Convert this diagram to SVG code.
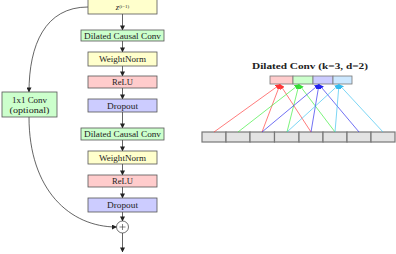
<svg xmlns="http://www.w3.org/2000/svg" width="396" height="254" viewBox="0 0 396 254">
<defs>
<style>
.box{stroke:#555;stroke-width:0.8}
.y{fill:#ffffcc}.g{fill:#ccffcc}.r{fill:#ffcccc}.b{fill:#ccccff}
.t{font-family:"Liberation Serif","DejaVu Serif",serif;font-size:8.5px;fill:#222;text-anchor:middle}
.ln{stroke:#222;stroke-width:0.7;fill:none}
.cell{fill:#e3e3e3;stroke:#777;stroke-width:1.2}
.k{stroke:#777;stroke-width:0.8}
</style>
<marker id="ah" viewBox="0 0 6 6" refX="5.5" refY="3" markerWidth="5" markerHeight="5" orient="auto" markerUnits="userSpaceOnUse"><path d="M0,0 L6,3 L0,6 z" fill="#222"/></marker>
<marker id="ar" viewBox="0 0 6 6" refX="5.5" refY="3" markerWidth="5" markerHeight="5" orient="auto" markerUnits="userSpaceOnUse"><path d="M0,0 L6,3 L0,6 z" fill="#ff3333"/></marker>
<marker id="ag" viewBox="0 0 6 6" refX="5.5" refY="3" markerWidth="5" markerHeight="5" orient="auto" markerUnits="userSpaceOnUse"><path d="M0,0 L6,3 L0,6 z" fill="#33dd33"/></marker>
<marker id="ab" viewBox="0 0 6 6" refX="5.5" refY="3" markerWidth="5" markerHeight="5" orient="auto" markerUnits="userSpaceOnUse"><path d="M0,0 L6,3 L0,6 z" fill="#2222ee"/></marker>
<marker id="ac" viewBox="0 0 6 6" refX="5.5" refY="3" markerWidth="5" markerHeight="5" orient="auto" markerUnits="userSpaceOnUse"><path d="M0,0 L6,3 L0,6 z" fill="#33bbee"/></marker>
</defs>
<rect width="396" height="254" fill="#fff"/>

<g id="connectors">
<line class="ln" x1="122.5" y1="14" x2="122.5" y2="30" marker-end="url(#ah)"/>
<line class="ln" x1="122.5" y1="41" x2="122.5" y2="52" marker-end="url(#ah)"/>
<line class="ln" x1="122.5" y1="66" x2="122.5" y2="76" marker-end="url(#ah)"/>
<line class="ln" x1="122.5" y1="88" x2="122.5" y2="99" marker-end="url(#ah)"/>
<line class="ln" x1="122.5" y1="112" x2="122.5" y2="128" marker-end="url(#ah)"/>
<line class="ln" x1="122.5" y1="140" x2="122.5" y2="151" marker-end="url(#ah)"/>
<line class="ln" x1="122.5" y1="164" x2="122.5" y2="175" marker-end="url(#ah)"/>
<line class="ln" x1="122.5" y1="187" x2="122.5" y2="198" marker-end="url(#ah)"/>
<line class="ln" x1="122.5" y1="212" x2="122.5" y2="221" marker-end="url(#ah)"/>
<line class="ln" x1="122.5" y1="233" x2="122.5" y2="252" marker-end="url(#ah)"/>
<path class="ln" d="M88,7 C45,7 29,45 29,92" marker-end="url(#ah)"/>
<path class="ln" d="M29,117 C29,190 70,227 116.5,227" marker-end="url(#ah)"/>
</g>

<g id="z"><rect class="box y" x="88" y="-1" width="69" height="15"/>
<text class="t" x="122.5" y="10" font-size="7"><tspan font-style="italic">z</tspan><tspan font-size="5" dy="-2.5">(i−1)</tspan></text></g>
<g id="dcc1"><rect class="box g" x="81" y="30" width="83" height="11"/><text class="t" x="122.5" y="38.5" textLength="77" lengthAdjust="spacingAndGlyphs">Dilated Causal Conv</text></g>
<g id="wn1"><rect class="box y" x="88" y="52" width="69" height="14"/><text class="t" x="122.5" y="62" textLength="47" lengthAdjust="spacingAndGlyphs">WeightNorm</text></g>
<g id="relu1"><rect class="box r" x="88" y="76" width="69" height="12"/><text class="t" x="122.5" y="85" textLength="21" lengthAdjust="spacingAndGlyphs">ReLU</text></g>
<g id="drop1"><rect class="box b" x="88" y="99" width="69" height="13"/><text class="t" x="122.5" y="108.5" textLength="31" lengthAdjust="spacingAndGlyphs">Dropout</text></g>
<g id="dcc2"><rect class="box g" x="81" y="128" width="83" height="12"/><text class="t" x="122.5" y="137" textLength="77" lengthAdjust="spacingAndGlyphs">Dilated Causal Conv</text></g>
<g id="wn2"><rect class="box y" x="88" y="151" width="69" height="13"/><text class="t" x="122.5" y="160.5" textLength="47" lengthAdjust="spacingAndGlyphs">WeightNorm</text></g>
<g id="relu2"><rect class="box r" x="88" y="175" width="69" height="12"/><text class="t" x="122.5" y="184" textLength="21" lengthAdjust="spacingAndGlyphs">ReLU</text></g>
<g id="drop2"><rect class="box b" x="88" y="198" width="69" height="14"/><text class="t" x="122.5" y="208" textLength="31" lengthAdjust="spacingAndGlyphs">Dropout</text></g>
<g id="plus"><circle cx="122.5" cy="227" r="6" fill="#fff" stroke="#333" stroke-width="0.7"/>
<path d="M119.5,227 H125.5 M122.5,224 V230" stroke="#333" stroke-width="0.6"/></g>
<g id="conv1x1"><rect class="box g" x="2" y="92" width="55" height="25"/>
<text class="t" x="29.5" y="103" textLength="35" lengthAdjust="spacingAndGlyphs">1x1 Conv</text><text class="t" x="29.5" y="113" textLength="40" lengthAdjust="spacingAndGlyphs">(optional)</text></g>

<g id="title"><text class="t" x="310" y="68.5" font-weight="bold" font-size="9.5" textLength="116" lengthAdjust="spacingAndGlyphs">Dilated Conv (k=3, d=2)</text></g>
<g id="kernel">
<rect class="k" x="270" y="76" width="23" height="8" fill="#ffcccc"/>
<rect class="k" x="293" y="76" width="20" height="8" fill="#ccffcc"/>
<rect class="k" x="313" y="76" width="20" height="8" fill="#ccccff"/>
<rect class="k" x="333" y="76" width="19" height="8" fill="#cce8ff"/>
</g>
<g id="inputs">
<rect class="cell" x="202" y="132" width="24" height="10"/>
<rect class="cell" x="226" y="132" width="24" height="10"/>
<rect class="cell" x="250" y="132" width="24.5" height="10"/>
<rect class="cell" x="274.5" y="132" width="24.5" height="10"/>
<rect class="cell" x="299" y="132" width="24" height="10"/>
<rect class="cell" x="323" y="132" width="24" height="10"/>
<rect class="cell" x="347" y="132" width="24" height="10"/>
<rect class="cell" x="371" y="132" width="24" height="10"/>
</g>
<g id="kconnectors" stroke-width="0.7" fill="none">
<g stroke="#ff4444">
<line x1="214" y1="132" x2="280" y2="84.5" marker-end="url(#ar)"/>
<line x1="262" y1="132" x2="280" y2="84.5" marker-end="url(#ar)"/>
<line x1="311" y1="132" x2="280" y2="84.5" marker-end="url(#ar)"/>
</g>
<g stroke="#44ee44">
<line x1="238" y1="132" x2="299" y2="84.5" marker-end="url(#ag)"/>
<line x1="287" y1="132" x2="299" y2="84.5" marker-end="url(#ag)"/>
<line x1="335" y1="132" x2="299" y2="84.5" marker-end="url(#ag)"/>
</g>
<g stroke="#3333ee">
<line x1="262" y1="132" x2="319" y2="84.5" marker-end="url(#ab)"/>
<line x1="311" y1="132" x2="319" y2="84.5" marker-end="url(#ab)"/>
<line x1="359" y1="132" x2="319" y2="84.5" marker-end="url(#ab)"/>
</g>
<g stroke="#44c4f0">
<line x1="287" y1="132" x2="339" y2="84.5" marker-end="url(#ac)"/>
<line x1="335" y1="132" x2="339" y2="84.5" marker-end="url(#ac)"/>
<line x1="383" y1="132" x2="339" y2="84.5" marker-end="url(#ac)"/>
</g>
</g>
</svg>
